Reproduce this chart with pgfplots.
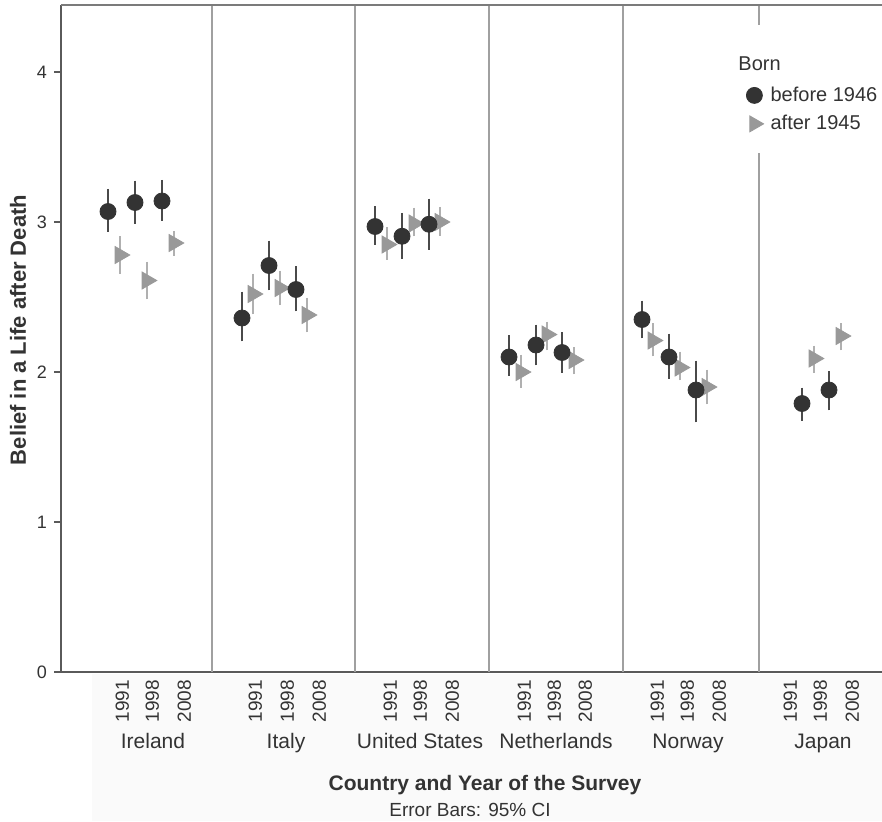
\documentclass[border=0pt]{standalone}
\usepackage{fontspec}
\setmainfont{Liberation Sans}
\usepackage{pgfplots}
\usepackage{pgfplotstable}
\pgfplotsset{compat=1.18}
\definecolor{dark}{HTML}{333333}
\definecolor{darkbar}{HTML}{4A4A4A}
\definecolor{tri}{HTML}{999999}
\definecolor{tribar}{HTML}{B0B0B0}
\definecolor{axisgray}{HTML}{5A5A5A}
\definecolor{sepgray}{HTML}{A0A0A0}

% x in pixel-like positions, y values, error plus, error minus
\pgfplotstableread{
x y ep em
108 3.07 0.135 0.12
135 3.13 0.13 0.125
162 3.14 0.125 0.115
242 2.36 0.16 0.14
269 2.71 0.15 0.15
296 2.55 0.14 0.13
375 2.97 0.12 0.105
402 2.905 0.14 0.135
429 2.985 0.155 0.155
509 2.10 0.13 0.11
536 2.18 0.12 0.12
562 2.13 0.12 0.12
642 2.35 0.11 0.11
669 2.10 0.14 0.13
696 1.88 0.18 0.20
802 1.79 0.09 0.10
829 1.88 0.11 0.12
}\before

\pgfplotstableread{
x y ep em
120 2.78 0.11 0.11
147 2.61 0.11 0.11
174 2.86 0.065 0.07
253 2.52 0.12 0.12
280 2.56 0.10 0.10
307 2.38 0.10 0.10
387 2.85 0.10 0.085
414 2.99 0.09 0.07
440 3.00 0.085 0.075
521 2.00 0.10 0.09
547 2.25 0.07 0.09
574 2.08 0.07 0.08
653 2.21 0.10 0.09
680 2.03 0.09 0.07
707 1.90 0.10 0.10
814 2.09 0.07 0.08
841 2.24 0.07 0.08
}\after

\begin{document}
\begin{tikzpicture}[x=1pt,y=1pt]
\path[use as bounding box] (0,0) rectangle (441,410.5);
\fill[black!2] (46,0) rectangle (441,73.5);
\begin{axis}[
  at={(30.5pt,74.5pt)}, anchor=south west,
  scale only axis, width=410.5pt, height=333.5pt,
  xmin=61, xmax=882, ymin=0, ymax=4.4467,
  clip=false,
  axis x line*=bottom, axis y line*=left,
  axis line style={line width=1.1pt, color=axisgray},
  ytick={0,1,2,3,4},
  tick align=outside,
  major tick length=3.5pt,
  y tick style={line width=0.9pt, color=axisgray},
  x tick style={draw=none},
  xtick={120,150,182,253,285,317,388,418,450,522,552,583,655,685,717,788,818,850},
  xticklabels={1991,1998,2008,1991,1998,2008,1991,1998,2008,1991,1998,2008,1991,1998,2008,1991,1998,2008},
  xticklabel style={rotate=90, anchor=east, font=\fontsize{9.5}{10}\selectfont, text=dark, xshift=3pt, yshift=-1.2pt},
  yticklabel style={font=\fontsize{9}{10}\selectfont, text=dark},
  /pgf/number format/assume math mode=true,
  legend image code/.code={\draw[mark repeat=2,mark phase=2,#1] plot coordinates {(0pt,0pt)(4.5pt,0pt)(9pt,0pt)};},
  legend style={at={(axis cs:746,3.925)}, anchor=north west, draw=none, fill=none,
     font=\fontsize{10}{12}\selectfont, text=dark, row sep=2.5pt, inner sep=0pt,
     column sep=2pt, nodes={inner sep=1.5pt}},
  legend cell align=left,
]
% panel separators and frame top
\draw[sepgray, line width=0.8pt] (axis cs:212,0) -- (axis cs:212,4.4467);
\draw[sepgray, line width=0.8pt] (axis cs:355,0) -- (axis cs:355,4.4467);
\draw[sepgray, line width=0.8pt] (axis cs:489,0) -- (axis cs:489,4.4467);
\draw[sepgray, line width=0.8pt] (axis cs:623,0) -- (axis cs:623,4.4467);
\draw[sepgray, line width=0.8pt] (axis cs:759,0) -- (axis cs:759,4.4467);
\draw[axisgray!80, line width=1pt] (axis cs:61,4.4467) -- (axis cs:882,4.4467);
\fill[white] (axis cs:733,4.313) rectangle (axis cs:882,3.46);

\addlegendimage{only marks, mark=*, mark size=4pt, mark options={fill=dark, draw=dark}}
\addlegendimage{only marks, mark=triangle*, mark size=4.6pt, mark options={rotate=-90, fill=tri, draw=tri}}
\legend{before 1946, after 1945}

\addplot[only marks, mark=triangle*, mark size=4.9pt,
  mark options={rotate=-90, fill=tri, draw=tri},
  error bars/.cd, y dir=both, y explicit,
  error bar style={line width=1pt, color=tribar},
  error mark options={mark size=1.2pt, line width=0.6pt, color=tribar}]
  table[x=x, y=y, y error plus=ep, y error minus=em] {\after};
\addplot[only marks, mark=*, mark size=4pt,
  mark options={fill=dark, draw=dark},
  error bars/.cd, y dir=both, y explicit,
  error bar style={line width=1.4pt, color=darkbar},
  error mark options={mark size=1.2pt, line width=0.6pt, color=darkbar}]
  table[x=x, y=y, y error plus=ep, y error minus=em] {\before};

\node[anchor=base west, inner sep=0pt, font=\fontsize{10}{12}\selectfont, text=dark] at (axis cs:738,4.01) {Born};

% country names
\node[anchor=base, inner sep=0pt, font=\fontsize{10.5}{12}\selectfont, text=dark] at (axis cs:153,-0.513) {Ireland};
\node[anchor=base, inner sep=0pt, font=\fontsize{10.5}{12}\selectfont, text=dark] at (axis cs:286,-0.513) {Italy};
\node[anchor=base, inner sep=0pt, font=\fontsize{10.5}{12}\selectfont, text=dark] at (axis cs:420,-0.513) {United States};
\node[anchor=base, inner sep=0pt, font=\fontsize{10.5}{12}\selectfont, text=dark] at (axis cs:556,-0.513) {Netherlands};
\node[anchor=base, inner sep=0pt, font=\fontsize{10.5}{12}\selectfont, text=dark] at (axis cs:688,-0.513) {Norway};
\node[anchor=base, inner sep=0pt, font=\fontsize{10.5}{12}\selectfont, text=dark] at (axis cs:823,-0.513) {Japan};
\node[anchor=base, inner sep=0pt, font=\bfseries\fontsize{10.5}{12}\selectfont, text=dark] at (axis cs:485,-0.793) {Country and Year of the Survey};
\node[anchor=base, inner sep=0pt, font=\fontsize{9.5}{11}\selectfont, text=dark] at (axis cs:470,-0.963) {Error Bars: 95\% CI};
\node[rotate=90, inner sep=0pt, font=\bfseries\fontsize{11}{12}\selectfont, text=dark] at (axis cs:18,2.28) {Belief in a Life after Death};
\end{axis}
\end{tikzpicture}
\end{document}
